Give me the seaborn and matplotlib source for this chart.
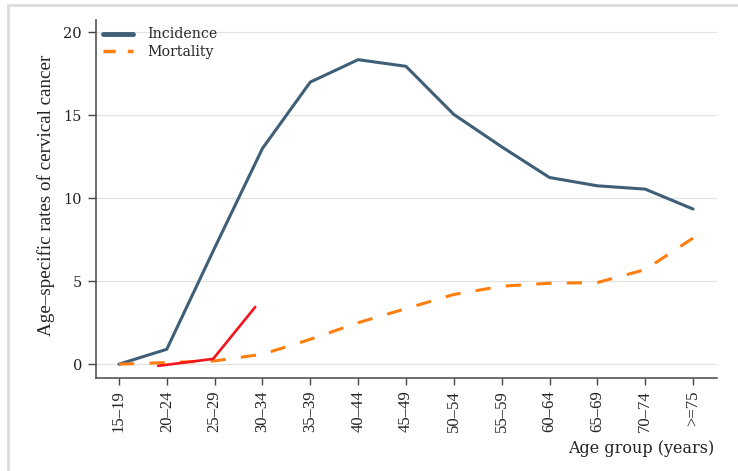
import matplotlib
matplotlib.use("Agg")
import matplotlib.pyplot as plt
import seaborn as sns
import pandas as pd
from matplotlib.lines import Line2D

age_groups = ["15–19", "20–24", "25–29", "30–34", "35–39", "40–44", "45–49",
              "50–54", "55–59", "60–64", "65–69", "70–74", ">=75"]
incidence = [0.0, 0.9, 7.0, 13.0, 17.0, 18.35, 17.95, 15.05, 13.1, 11.25, 10.75, 10.55, 9.35]
mortality = [0.0, 0.1, 0.2, 0.6, 1.5, 2.5, 3.35, 4.2, 4.7, 4.88, 4.92, 5.7, 7.6]

# hand-drawn trend segment (positions on the age-group axis)
trend_x = [0.82, 1.97, 2.85]
trend_y = [-0.1, 0.32, 3.45]

sns.set_theme(style="white")
plt.rcParams["font.family"] = ["DejaVu Serif"]

df = pd.DataFrame({"pos": range(len(age_groups)), "Incidence": incidence, "Mortality": mortality})
trend = pd.DataFrame({"x": trend_x, "y": trend_y})

fig = plt.figure(figsize=(7.38, 4.71), dpi=100)
ax = fig.add_axes([0.130, 0.1975, 0.8415, 0.76])

inc_col = "#3e5f77"
mort_col = "#ff7f0e"
red_col = "#f5141e"

for yv in [0, 5, 10, 15, 20]:
    ax.axhline(yv, color="#e2e2e2", lw=0.9, zorder=0)

sns.lineplot(data=df, x="pos", y="Incidence", ax=ax, color=inc_col, lw=2.2, zorder=3)
sns.lineplot(data=df, x="pos", y="Mortality", ax=ax, color=mort_col, lw=2.2,
             dashes=False, zorder=3).lines[-1].set_dashes([5, 5])
sns.lineplot(data=trend, x="x", y="y", ax=ax, color=red_col, lw=1.9, zorder=4)

ax.set_xlim(-0.48, 12.5)
ax.set_ylim(-0.83, 20.74)
ax.set_xticks(range(len(age_groups)))
ax.set_xticklabels(age_groups, rotation=90, fontsize=12, family="Liberation Serif", color="#222222")
ax.set_yticks([0, 5, 10, 15, 20])
ax.set_yticklabels(["0", "5", "10", "15", "20"], fontsize=10.5, color="#222222")

ax.tick_params(axis="x", direction="out", length=5, width=1, color="#444444", pad=4, bottom=True)
ax.tick_params(axis="y", direction="out", length=6, width=1, color="#444444", pad=4, left=True)

for side in ["top", "right"]:
    ax.spines[side].set_visible(False)
for side in ["left", "bottom"]:
    ax.spines[side].set_color("#555555")
    ax.spines[side].set_linewidth(1.2)

ax.set_ylabel("Age–specific rates of cervical cancer", family="Liberation Serif",
              fontsize=13.7, color="#222222")
ax.yaxis.set_label_coords(-0.066, 0.51)
ax.set_xlabel("")
fig.text(0.968, 1 - 453 / 471, "Age group (years)", ha="right", va="baseline",
         fontsize=11.5, color="#222222")

handles = [Line2D([], [], color=inc_col, lw=3.5),
           Line2D([], [], color=mort_col, lw=2.5, dashes=[3.5, 3.5])]
ax.legend(handles, ["Incidence", "Mortality"], loc="upper left", frameon=False,
          fontsize=10.2, handlelength=2.1, handletextpad=1.0, labelspacing=0.25,
          borderaxespad=0.0, bbox_to_anchor=(0.003, 0.995))

# light frame along the top and left edges
fig.add_artist(Line2D([8 / 738, 1], [1 - 5 / 471, 1 - 5 / 471], transform=fig.transFigure,
                      color="#dddddd", lw=2))
fig.add_artist(Line2D([8 / 738, 8 / 738], [0, 1 - 5 / 471], transform=fig.transFigure,
                      color="#dddddd", lw=2))

fig.savefig("out.png", dpi=100)
